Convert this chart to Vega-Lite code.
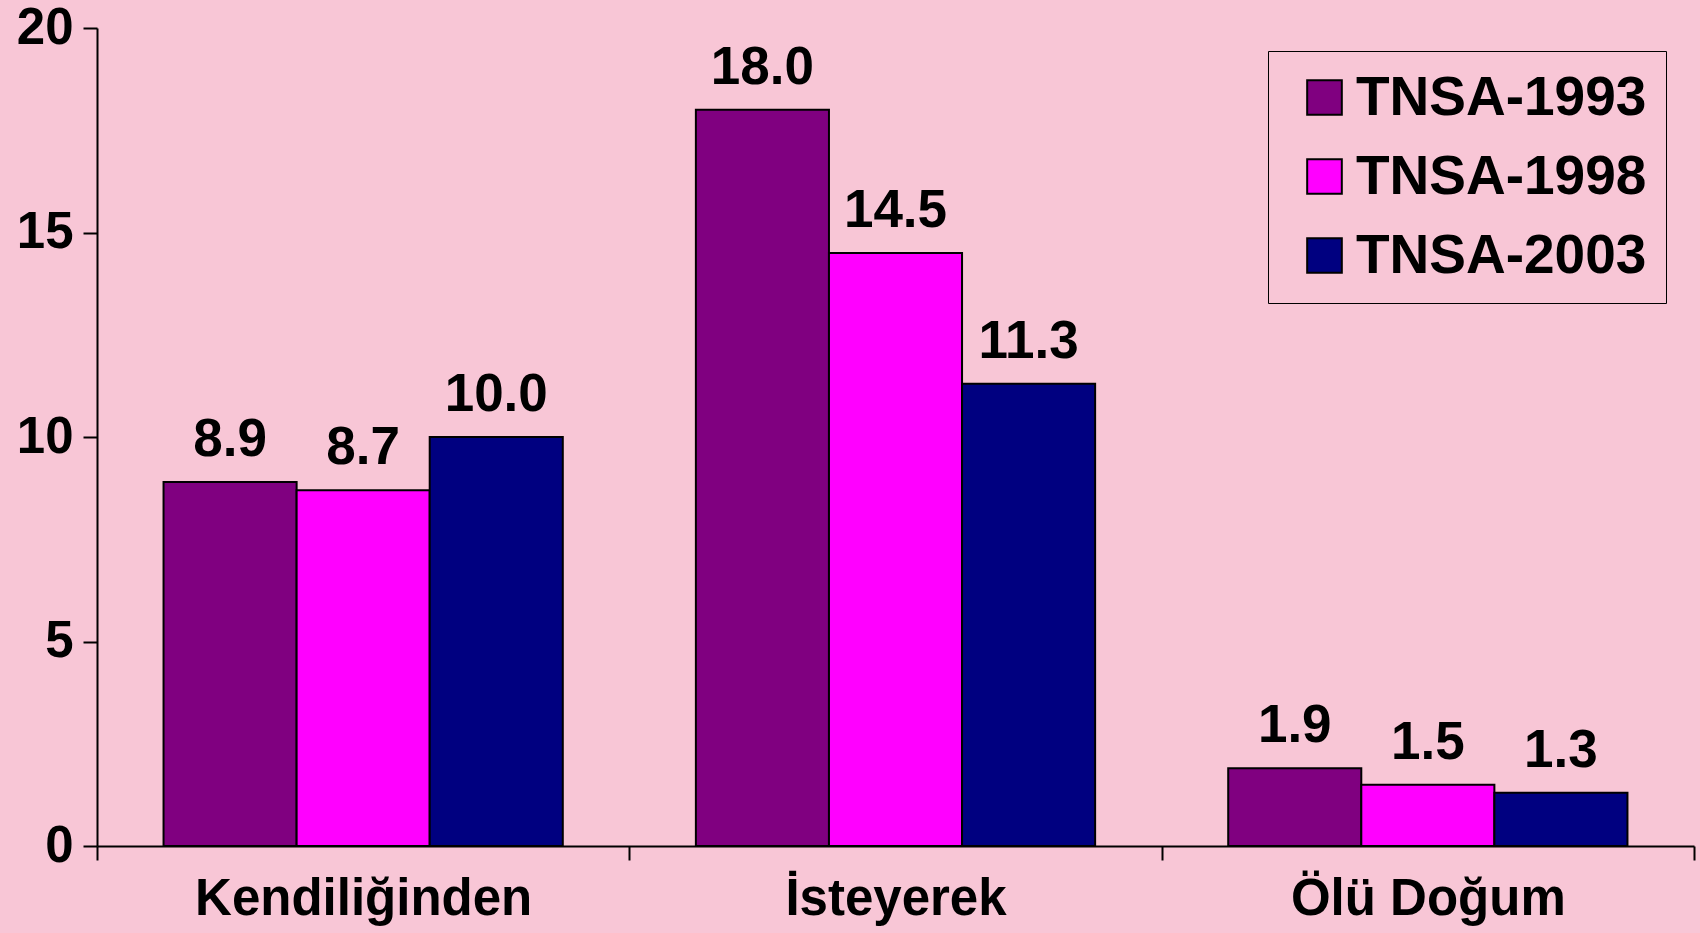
{
  "$schema": "https://vega.github.io/schema/vega-lite/v6.json",
  "autosize": {"type": "none"},
  "width": 1597,
  "height": 818,
  "padding": {"left": 97, "top": 28, "right": 6, "bottom": 87},
  "background": "#f8c6d6",
  "config": {
    "view": {"stroke": null},
    "font": "Liberation Sans"
  },
  "data": {
    "values": [
      {"kategori": "Kendiliğinden", "anket": "TNSA-1993", "deger": 8.9},
      {"kategori": "Kendiliğinden", "anket": "TNSA-1998", "deger": 8.7},
      {"kategori": "Kendiliğinden", "anket": "TNSA-2003", "deger": 10.0},
      {"kategori": "İsteyerek", "anket": "TNSA-1993", "deger": 18.0},
      {"kategori": "İsteyerek", "anket": "TNSA-1998", "deger": 14.5},
      {"kategori": "İsteyerek", "anket": "TNSA-2003", "deger": 11.3},
      {"kategori": "Ölü Doğum", "anket": "TNSA-1993", "deger": 1.9},
      {"kategori": "Ölü Doğum", "anket": "TNSA-1998", "deger": 1.5},
      {"kategori": "Ölü Doğum", "anket": "TNSA-2003", "deger": 1.3}
    ]
  },
  "encoding": {
    "x": {
      "field": "kategori",
      "type": "nominal",
      "sort": ["Kendiliğinden", "İsteyerek", "Ölü Doğum"],
      "scale": {"paddingInner": 0, "paddingOuter": 0},
      "axis": {
        "title": null,
        "labelAngle": 0,
        "labelFont": "Liberation Sans",
        "labelFontWeight": "bold",
        "labelFontSize": 51,
        "labelColor": "black",
        "labelPadding": 14,
        "labelLimit": 0,
        "domainColor": "black",
        "domainWidth": 2,
        "tickColor": "black",
        "tickWidth": 2,
        "tickSize": 14,
        "tickBand": "extent"
      }
    },
    "xOffset": {
      "field": "anket",
      "type": "nominal",
      "scale": {"paddingInner": 0, "paddingOuter": 0.5}
    },
    "y": {
      "field": "deger",
      "type": "quantitative",
      "scale": {"domain": [0, 20], "nice": false},
      "axis": {
        "title": null,
        "values": [0, 5, 10, 15, 20],
        "grid": false,
        "labelFont": "Liberation Sans",
        "labelFontWeight": "bold",
        "labelFontSize": 51,
        "labelColor": "black",
        "labelPadding": 10,
        "domainColor": "black",
        "domainWidth": 2,
        "tickColor": "black",
        "tickWidth": 2,
        "tickSize": 14
      }
    }
  },
  "layer": [
    {
      "mark": {"type": "bar", "stroke": "black", "strokeWidth": 2},
      "encoding": {
        "color": {
          "field": "anket",
          "type": "nominal",
          "scale": {
            "domain": ["TNSA-1993", "TNSA-1998", "TNSA-2003"],
            "range": ["#800080", "#ff00ff", "#000080"]
          },
          "legend": {
            "title": null,
            "orient": "none",
            "legendX": 1171,
            "legendY": 23,
            "direction": "vertical",
            "strokeColor": "black",
            "fillColor": null,
            "padding": 19,
            "symbolType": "square",
            "symbolSize": 1200,
            "symbolStrokeColor": "black",
            "symbolStrokeWidth": 2,
            "symbolOffset": 10,
            "labelFont": "Liberation Sans",
            "labelFontWeight": "bold",
            "labelFontSize": 55,
            "labelColor": "black",
            "labelOffset": 4,
            "rowPadding": 23,
            "labelLimit": 400
          }
        }
      }
    },
    {
      "mark": {
        "type": "text",
        "baseline": "alphabetic",
        "dy": -26,
        "font": "Liberation Sans",
        "fontWeight": "bold",
        "fontSize": 53,
        "color": "black"
      },
      "encoding": {
        "text": {"field": "deger", "type": "quantitative", "format": ".1f"}
      }
    }
  ]
}
